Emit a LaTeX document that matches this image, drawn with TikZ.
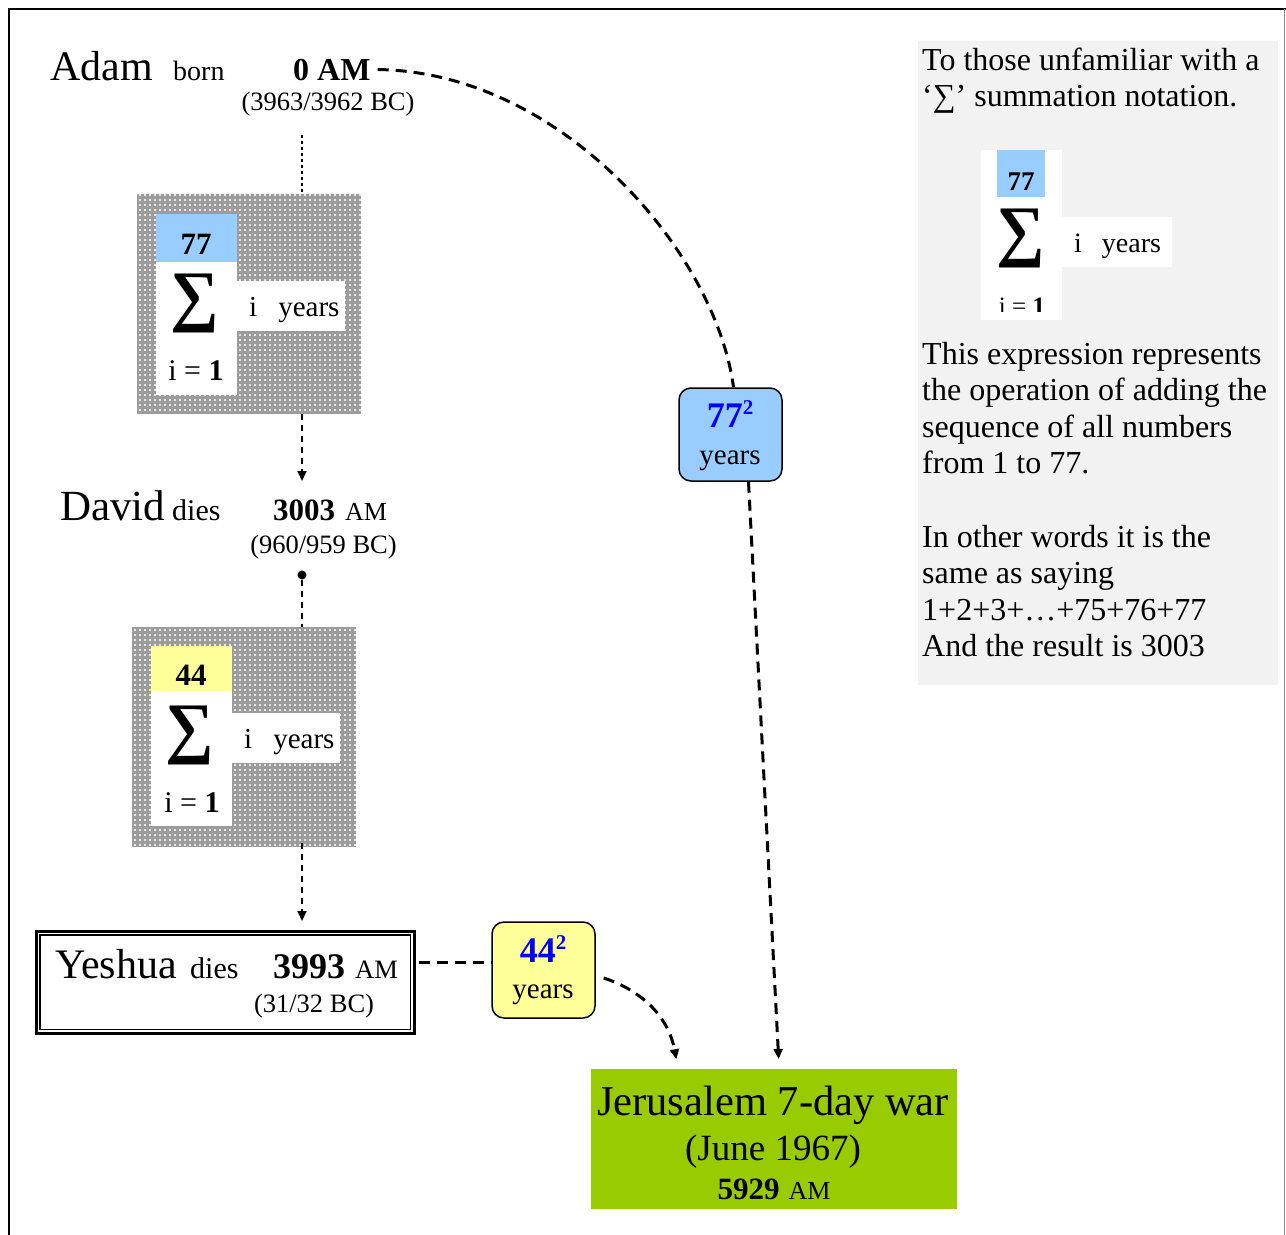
\documentclass[tikz,border=0pt]{standalone}
\usepackage{fontspec}
\setmainfont{Liberation Serif}
\usetikzlibrary{arrows.meta,patterns.meta}
\definecolor{skyb}{HTML}{99CCFF}
\definecolor{lyel}{HTML}{FFFF99}
\definecolor{grn}{HTML}{99CC00}
\definecolor{panel}{HTML}{F2F2F2}
\definecolor{dotgrey}{HTML}{9C9C9C}
\definecolor{tblue}{HTML}{0000FF}
\newcommand\fs[1]{\fontsize{#1}{#1}\selectfont}
\tikzset{
  txt/.style={inner sep=0pt, anchor=base west},
  ctxt/.style={inner sep=0pt, anchor=base},
  greyblk/.style={inner sep=0pt, anchor=north west, minimum width=224, minimum height=220,
    preaction={fill=dotgrey}, pattern={Dots[distance=5pt, radius=1.1pt]}, pattern color=white},
  topbox/.style={inner sep=0pt, anchor=north west, minimum width=81},
  sqbox/.style={draw, line width=1.5pt, rounded corners=12pt, minimum width=103, inner sep=0pt},
  bigdash/.style={line width=3pt, dash pattern=on 11pt off 7pt},
  thindash/.style={line width=1.8pt, dash pattern=on 6pt off 5pt},
  finedash/.style={line width=1.6pt, dash pattern=on 3pt off 3pt},
  tip/.style={-{Triangle[length=10pt, width=9pt]}},
  sig/.style={inner sep=0pt, font=\fs{68}\bfseries}
}
\begin{document}
\begin{tikzpicture}[x=1pt, y=-1pt]
\useasboundingbox (0,0) rectangle (1286,1235);
% frame
\draw[line width=2pt] (8.5,1235) -- (8.5,8.5) -- (1286,8.5);
\draw[black!45, line width=1pt] (1284.5,9) -- (1284.5,1235);

% right panel
\node[fill=panel, inner sep=0pt, anchor=north west, minimum width=360, minimum height=644] (panel) at (918,41) {};
\foreach \n/\yy/\t in {p1/70/{To those unfamiliar with a}, p2/106/{‘∑’ summation notation.},
  p3/364/{This expression represents}, p4/400/{the operation of adding the},
  p5/437/{sequence of all numbers}, p6/473/{from 1 to 77.},
  p7/547/{In other words it is the}, p8/583/{same as saying},
  p9/620/{1+2+3+…+75+76+77}, p10/656/{And the result is 3003}}
  \node[txt, font=\fs{32}] (\n) at (922,\yy) {\t};
% mini sum in panel
\fill[white] (981,150) rectangle (1062,320);
\fill[white] (1061,217) rectangle (1172,267);
\node[topbox, fill=skyb, minimum width=48, minimum height=47] (pm77) at (997,150) {};
\node[ctxt, font=\fs{27}\bfseries] (pm77t) at (1021,190) {77};
\node[sig] (psig) at (1021,238) {∑};
\node[txt, font=\fs{28}] (piy) at (1074,252) {i\hspace{20pt}years};
\begin{scope}
\clip (975,285) rectangle (1070,311);
\node[ctxt, font=\fs{25}] (pi1) at (1022,314) {i = \textbf{1}};
\end{scope}

% Adam line
\node[txt, font=\fs{42}] (adam) at (50,80) {Adam};
\node[txt, font=\fs{28}] (born) at (173,80) {born};
\node[txt, font=\fs{32}\bfseries] (zeroam) at (293,80) {0 AM};
\node[ctxt, font=\fs{26.5}] (abc) at (328,110) {(3963/3962 BC)};
\coordinate (a1) at (302,135);

% sum block 1
\node[greyblk] (g1) at (137,194) {};
\fill[white] (156,262) rectangle (237,395);
\fill[white] (237,281) rectangle (345,331);
\node[topbox, fill=skyb, minimum height=48] (t1) at (156,214) {};
\node[ctxt, font=\fs{31}\bfseries] (t1t) at (196,254) {77};
\node[sig] (s1) at (195,303) {∑};
\node[txt, font=\fs{29}] (iy1) at (249,316) {i\hspace{21pt}years};
\node[ctxt, font=\fs{30}] (ie1) at (196,380) {i = \textbf{1}};

% David line
\coordinate (dtip) at (302,481);
\node[txt, font=\fs{43}] (david) at (60,520) {David};
\node[txt, font=\fs{30}] (ddies) at (172,520) {dies};
\node[txt] (d3003) at (273,520) {\fs{31}\bfseries 3003\hspace{10pt}\fs{26}\mdseries AM};
\node[ctxt, font=\fs{26.5}] (dbc) at (323.5,553) {(960/959 BC)};
\node[circle, fill, inner sep=0pt, minimum size=9pt] (dot) at (302,575) {};

% sum block 2
\node[greyblk] (g2) at (132,627) {};
\fill[white] (151,691) rectangle (232,826);
\fill[white] (232,713) rectangle (340,763);
\node[topbox, fill=lyel, minimum height=45] (t2) at (151,646) {};
\node[ctxt, font=\fs{31}\bfseries] (t2t) at (191,685) {44};
\node[sig] (s2) at (190,735) {∑};
\node[txt, font=\fs{29}] (iy2) at (244,748) {i\hspace{21pt}years};
\node[ctxt, font=\fs{30}] (ie2) at (192,812) {i = \textbf{1}};

% Yeshua box
\node[draw, line width=2.5pt, inner sep=0pt, anchor=north west, minimum width=378, minimum height=102] (yframe) at (35,930) {};
\draw[line width=1.2pt] ([shift={(5,5)}]yframe.north west) rectangle ([shift={(-5,-5)}]yframe.south east);
\node[txt, font=\fs{42}] (yesh) at (55,978) {Yeshua};
\node[txt, font=\fs{30}] (ydies) at (190,978) {dies};
\node[txt] (y3993) at (273,978) {\fs{36}\bfseries 3993\hspace{10pt}\fs{26.5}\mdseries AM};
\node[ctxt, font=\fs{26.5}] (ybc) at (314,1012) {(31/32 BC)};

% 77^2 box
\node[sqbox, fill=skyb, minimum height=93] (box77) at (730.5,434.5) {};
\node[ctxt] (b77a) at (730,427) {\fs{36}\bfseries\color{tblue}77\raisebox{13pt}{\fs{21}2}};
\node[ctxt, font=\fs{29}] (b77b) at (730,464) {years};

% 44^2 box
\node[sqbox, fill=lyel, minimum height=96] (box44) at (543.5,970) {};
\node[ctxt] (b44a) at (543,962) {\fs{36}\bfseries\color{tblue}44\raisebox{13pt}{\fs{21}2}};
\node[ctxt, font=\fs{29}] (b44b) at (543,998) {years};

% green box
\node[fill=grn, inner sep=0pt, anchor=north west, minimum width=366, minimum height=140] (war) at (591,1069) {};
\node[ctxt, font=\fs{42.5}] (w1) at (773,1115) {Jerusalem 7-day war};
\node[ctxt, font=\fs{37}] (w2) at (773,1160) {(June 1967)};
\node[ctxt] (w3) at (774,1199) {\fs{31}\bfseries 5929\hspace{9pt}\fs{26}\mdseries AM};

% connectors
\draw[finedash] (a1) -- (a1 |- g1.north);
\draw[thindash, tip] (g1.south -| a1) -- (dtip);
\draw[thindash] (dot) -- (dot |- g2.north);
\draw[thindash, tip, shorten >=9pt] ([yshift=4]g2.south -| dot) -- (yframe.north -| dot);
\draw[bigdash] ([xshift=7]zeroam.east) .. controls (560,72) and (715,250) .. ([xshift=3]box77.north);
\draw[bigdash, tip, shorten >=10pt] ([xshift=18]box77.south) -- ([xshift=5]war.north);
\coordinate (lvl) at (0,962);
\draw[bigdash, shorten <=3pt] (yframe.east |- lvl) -- (box44.west |- lvl);
\draw[bigdash, tip, shorten >=10pt] ([shift={(8,8)}]box44.east) .. controls (640,990) and (668,1015) .. ([xshift=-96]war.north);
\end{tikzpicture}
\end{document}
